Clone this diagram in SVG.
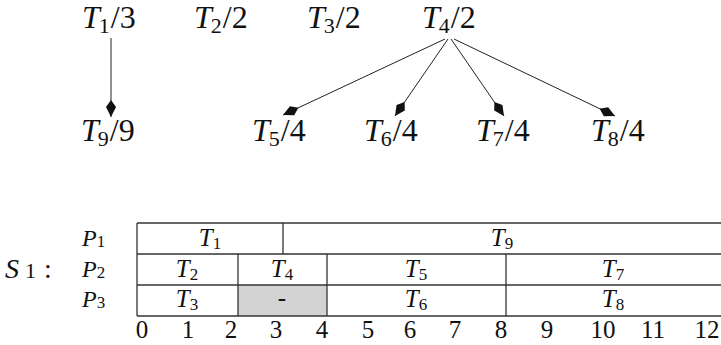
<svg xmlns="http://www.w3.org/2000/svg" width="721" height="345" viewBox="0 0 721 345">
<defs>
<style>
.txt{font-family:'Liberation Serif','Times New Roman',serif;fill:#111;}
.lbl{font-size:32px;}
.it{font-style:italic;}
.sub{font-size:22px;}
.cell{font-size:25px;text-anchor:middle;}
.csub{font-size:17px;}
.ax{font-size:25px;text-anchor:middle;}
.edge{stroke:#222;stroke-width:1;fill:none;}
.grid{stroke:#333;stroke-width:1.3;fill:none;}
</style>
<marker id="ah" viewBox="-18 -6 19 12" refX="0" refY="0" markerWidth="19" markerHeight="12" markerUnits="userSpaceOnUse" orient="auto">
<path d="M0,0 L-10,-5 L-17,0 L-10,5 Z" fill="#111"/>
</marker>
</defs>
<rect width="721" height="345" fill="#fff"/>

<g id="connectors">
<line class="edge" x1="111" y1="38" x2="111" y2="117" marker-end="url(#ah)"/>
<line class="edge" x1="445" y1="39" x2="283" y2="115" marker-end="url(#ah)"/>
<line class="edge" x1="448" y1="39" x2="395" y2="116" marker-end="url(#ah)"/>
<line class="edge" x1="451" y1="39" x2="504" y2="116" marker-end="url(#ah)"/>
<line class="edge" x1="454" y1="39" x2="615" y2="116" marker-end="url(#ah)"/>
</g>

<g class="txt">
<g id="T1"><text class="lbl" x="82" y="28"><tspan class="it">T</tspan><tspan class="sub" dx="-1" dy="5">1</tspan><tspan dx="1" dy="-5">/3</tspan></text></g>
<g id="T2"><text class="lbl" x="194" y="28"><tspan class="it">T</tspan><tspan class="sub" dx="-1" dy="5">2</tspan><tspan dx="1" dy="-5">/2</tspan></text></g>
<g id="T3"><text class="lbl" x="307" y="28"><tspan class="it">T</tspan><tspan class="sub" dx="-1" dy="5">3</tspan><tspan dx="1" dy="-5">/2</tspan></text></g>
<g id="T4"><text class="lbl" x="422" y="28"><tspan class="it">T</tspan><tspan class="sub" dx="-1" dy="5">4</tspan><tspan dx="1" dy="-5">/2</tspan></text></g>
<g id="T9"><text class="lbl" x="81" y="141"><tspan class="it">T</tspan><tspan class="sub" dx="-1" dy="5">9</tspan><tspan dx="1" dy="-5">/9</tspan></text></g>
<g id="T5"><text class="lbl" x="252" y="141"><tspan class="it">T</tspan><tspan class="sub" dx="-1" dy="5">5</tspan><tspan dx="1" dy="-5">/4</tspan></text></g>
<g id="T6"><text class="lbl" x="364" y="141"><tspan class="it">T</tspan><tspan class="sub" dx="-1" dy="5">6</tspan><tspan dx="1" dy="-5">/4</tspan></text></g>
<g id="T7"><text class="lbl" x="476" y="141"><tspan class="it">T</tspan><tspan class="sub" dx="-1" dy="5">7</tspan><tspan dx="1" dy="-5">/4</tspan></text></g>
<g id="T8"><text class="lbl" x="591" y="141"><tspan class="it">T</tspan><tspan class="sub" dx="-1" dy="5">8</tspan><tspan dx="1" dy="-5">/4</tspan></text></g>
</g>

<g id="schedule">
<rect x="238" y="285" width="89" height="31" fill="#d3d3d3"/>
<line class="grid" x1="137" y1="223" x2="721" y2="223"/>
<line class="grid" x1="137" y1="254" x2="721" y2="254"/>
<line class="grid" x1="137" y1="285" x2="721" y2="285"/>
<line class="grid" x1="137" y1="316" x2="721" y2="316"/>
<line class="grid" x1="137" y1="223" x2="137" y2="316"/>
<line class="grid" x1="283" y1="223" x2="283" y2="254"/>
<line class="grid" x1="238" y1="254" x2="238" y2="316"/>
<line class="grid" x1="327" y1="254" x2="327" y2="316"/>
<line class="grid" x1="506" y1="254" x2="506" y2="316"/>

<g class="txt">
<text x="5" y="278" font-size="28"><tspan class="it">S</tspan><tspan dx="6" font-size="22">1</tspan><tspan dx="8">:</tspan></text>
<text x="82" y="246" font-size="24"><tspan class="it">P</tspan><tspan font-size="17" dy="1">1</tspan></text>
<text x="82" y="277" font-size="24"><tspan class="it">P</tspan><tspan font-size="17" dy="1">2</tspan></text>
<text x="82" y="307" font-size="24"><tspan class="it">P</tspan><tspan font-size="17" dy="1">3</tspan></text>

<text class="cell" x="210" y="246"><tspan class="it">T</tspan><tspan class="csub" dy="3">1</tspan></text>
<text class="cell" x="502" y="246"><tspan class="it">T</tspan><tspan class="csub" dy="3">9</tspan></text>
<text class="cell" x="187" y="277"><tspan class="it">T</tspan><tspan class="csub" dy="3">2</tspan></text>
<text class="cell" x="282" y="277"><tspan class="it">T</tspan><tspan class="csub" dy="3">4</tspan></text>
<text class="cell" x="416" y="277"><tspan class="it">T</tspan><tspan class="csub" dy="3">5</tspan></text>
<text class="cell" x="613" y="277"><tspan class="it">T</tspan><tspan class="csub" dy="3">7</tspan></text>
<text class="cell" x="187" y="307"><tspan class="it">T</tspan><tspan class="csub" dy="3">3</tspan></text>
<text class="cell" x="282" y="306" font-size="20">-</text>
<text class="cell" x="416" y="307"><tspan class="it">T</tspan><tspan class="csub" dy="3">6</tspan></text>
<text class="cell" x="613" y="307"><tspan class="it">T</tspan><tspan class="csub" dy="3">8</tspan></text>

<text class="ax" x="142" y="338">0</text>
<text class="ax" x="188" y="338">1</text>
<text class="ax" x="231" y="338">2</text>
<text class="ax" x="276" y="338">3</text>
<text class="ax" x="322" y="338">4</text>
<text class="ax" x="368" y="338">5</text>
<text class="ax" x="410" y="338">6</text>
<text class="ax" x="455" y="338">7</text>
<text class="ax" x="501" y="338">8</text>
<text class="ax" x="547" y="338">9</text>
<text class="ax" x="603" y="338">10</text>
<text class="ax" x="653" y="338">11</text>
<text class="ax" x="707" y="338">12</text>
</g>
</g>
</svg>
